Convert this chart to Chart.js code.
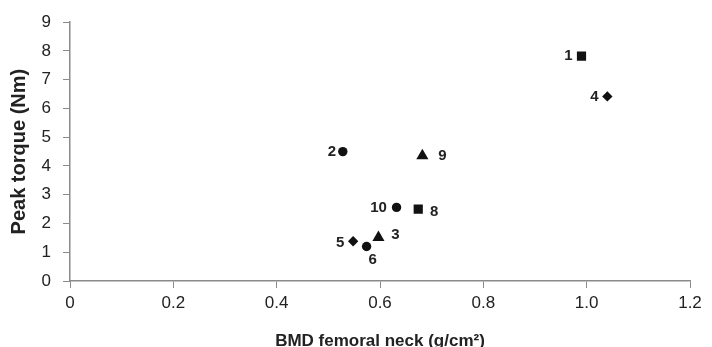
<!DOCTYPE html>
<html>
<head>
<meta charset="utf-8">
<script src="https://cdn.jsdelivr.net/npm/chart.js@4"></script>
<style>
  html, body { margin: 0; padding: 0; background: #fff; }
</style>
</head>
<body>
<canvas id="myChart" width="712" height="347"></canvas>
<script>
// subject ids, BMD femoral neck (g/cm2), peak torque (Nm), marker shape
const ids    = ['1', '2', '3', '4', '5', '6', '8', '9', '10'];
const bmd    = [0.99, 0.528, 0.597, 1.04, 0.548, 0.574, 0.674, 0.682, 0.632];
const torque = [7.82, 4.5, 1.51, 6.42, 1.38, 1.2, 2.5, 4.36, 2.56];
const shapes = ['rect', 'circle', 'triangle', 'rectRot', 'rectRot', 'circle', 'rect', 'triangle', 'circle'];

const xTicks = [0, 0.2, 0.4, 0.6, 0.8, 1, 1.2];
const yTicks = [0, 1, 2, 3, 4, 5, 6, 7, 8, 9];

// where each number sits relative to its marker (px)
const labelPlacement = {
  '1': [-13, 0], '2': [-11, 0], '3': [17, -3], '4': [-13, 0], '5': [-13, 2],
  '6': [6, 13], '8': [16, 3], '9': [20, 0], '10': [-18, 0]
};

const ctx = document.getElementById('myChart').getContext('2d');
const ink = '#111';
const axisGrey = '#8a8a8a';

const shapeSize = { rect: 6.5, circle: 4.7, triangle: 7, rectRot: 5.2 };
const datasets = ['rect', 'circle', 'triangle', 'rectRot'].map(s => ({
  data: ids.map((id, i) => ({ x: bmd[i], y: torque[i], id })).filter((d, i) => shapes[i] === s),
  pointStyle: s,
  pointRadius: shapeSize[s],
  backgroundColor: ink,
  borderColor: ink,
  borderWidth: 0,
  showLine: false
}));

const numberLabels = {
  id: 'numberLabels',
  afterDatasetsDraw(chart) {
    const c = chart.ctx;
    c.save();
    c.font = 'bold 15px "Liberation Sans", Arial, sans-serif';
    c.fillStyle = '#222';
    c.textAlign = 'center';
    c.textBaseline = 'middle';
    chart.data.datasets.forEach(ds => {
      ds.data.forEach(d => {
        const px = chart.scales.x.getPixelForValue(d.x);
        const py = chart.scales.y.getPixelForValue(d.y);
        const [dx, dy] = labelPlacement[d.id];
        c.fillText(d.id, px + dx, py + dy);
      });
    });
    c.restore();
  }
};

const tickFont = { family: '"Liberation Sans", Arial, sans-serif', size: 17 };
const fam = '"Liberation Sans", Arial, sans-serif';

const config = {
  type: 'scatter',
  data: { datasets },
  options: {
    responsive: false,
    animation: false,
    layout: { padding: { top: 17, right: 22, bottom: 0, left: 0 } },
    plugins: { legend: { display: false }, tooltip: { enabled: false } },
    scales: {
      x: {
        type: 'linear',
        min: 0, max: 1.2,
        afterBuildTicks: s => { s.ticks = xTicks.map(v => ({ value: v })); },
        afterFit: s => { s.height = 66; },
        grid: { drawOnChartArea: false, color: axisGrey, tickLength: 7 },
        border: { color: axisGrey, width: 1.5 },
        ticks: { font: tickFont, color: '#222', padding: 5, maxRotation: 0 },
        title: { display: true, text: 'BMD femoral neck (g/cm²)', font: { family: fam, size: 17, weight: 'bold' }, color: '#222', padding: { top: 0, bottom: -5 } }
      },
      y: {
        min: 0, max: 9,
        afterBuildTicks: s => { s.ticks = yTicks.map(v => ({ value: v })); },
        afterFit: s => { s.width = 70; },
        grid: { drawOnChartArea: false, color: axisGrey, tickLength: 7 },
        border: { color: axisGrey, width: 1.5 },
        ticks: { font: tickFont, color: '#222', padding: 12 },
        title: { display: true, text: 'Peak torque (Nm)', font: { family: fam, size: 20, weight: 'bold' }, color: '#222', padding: { top: 7, bottom: 0 } }
      }
    }
  },
  plugins: [numberLabels]
};

const myChart = new Chart(ctx, config);
</script>
</body>
</html>
